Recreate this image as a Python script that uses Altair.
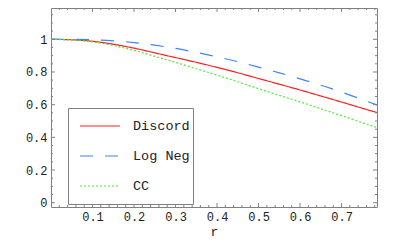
import altair as alt
import pandas as pd

# ---- data ----
r_vals = [0, 0.05, 0.1, 0.15, 0.2, 0.25, 0.3, 0.35, 0.4, 0.45, 0.5, 0.55, 0.6, 0.65, 0.7, 0.75, 0.7854]
discord = [1.000, 0.997, 0.988, 0.970, 0.946, 0.917, 0.888, 0.859, 0.828, 0.795, 0.760, 0.725, 0.690, 0.653, 0.616, 0.578, 0.552]
logneg = [1.000, 0.9995, 0.997, 0.991, 0.980, 0.964, 0.944, 0.920, 0.893, 0.863, 0.830, 0.795, 0.758, 0.719, 0.677, 0.631, 0.598]
cc = [1.000, 0.996, 0.984, 0.962, 0.932, 0.896, 0.859, 0.820, 0.781, 0.740, 0.698, 0.657, 0.617, 0.575, 0.533, 0.490, 0.460]
series_names = ["Discord", "Log Neg", "CC"]

x_labels = [0.1, 0.2, 0.3, 0.4, 0.5, 0.6, 0.7]
y_labels = [0, 0.2, 0.4, 0.6, 0.8, 1]
x_minor = [round(0.02 * i, 2) for i in range(1, 40) if i % 5 != 0]
y_minor = [round(0.05 * i, 2) for i in range(1, 24) if i % 4 != 0]
y_major = [0, 0.2, 0.4, 0.6, 0.8, 1.0]

rows = []
for name, vals in zip(series_names, [discord, logneg, cc]):
    for r, v in zip(r_vals, vals):
        rows.append({"r": r, "value": v, "series": name})
df = pd.DataFrame(rows)

W, H = 326, 199
FRAME = "#808080"
FONT = "Liberation Mono"
TXT = "#222222"

x_scale = alt.Scale(domain=[0, 0.7854], nice=False, zero=False)
y_scale = alt.Scale(domain=[-0.0263, 1.1916], nice=False, zero=False)

x_axis = alt.Axis(values=x_labels, format="~g", title="r", tickSize=0, domain=False,
                  grid=False, labelFont=FONT, labelFontSize=12, labelColor=TXT,
                  labelPadding=4, titleFont=FONT, titleFontSize=13, titleFontWeight="normal",
                  titleColor=TXT, titlePadding=3)
y_axis = alt.Axis(values=y_labels, format="~g", title=None, tickSize=0, domain=False,
                  grid=False, labelFont=FONT, labelFontSize=12, labelColor=TXT,
                  labelPadding=4)

lines = alt.Chart(df).mark_line(strokeWidth=1.2, interpolate="natural", clip=True).encode(
    x=alt.X("r:Q", scale=x_scale, axis=x_axis),
    y=alt.Y("value:Q", scale=y_scale, axis=y_axis),
    color=alt.Color("series:N", sort=series_names,
                    scale=alt.Scale(domain=series_names, range=["#ff2020", "#3d85f5", "#4ee83a"]),
                    legend=alt.Legend(title=None, labelExpr="datum.label + '\u00a0\u00a0\u00a0\u00a0'")),
    strokeDash=alt.StrokeDash("series:N", sort=series_names,
                              scale=alt.Scale(domain=series_names, range=[[1, 0], [13, 12], [2, 2]]),
                              legend=alt.Legend(title=None, labelExpr="datum.label + '\u00a0\u00a0\u00a0\u00a0'")),
)

layers = [lines]


def xticks(vals, length, top):
    d = pd.DataFrame({"r": vals})
    if top:
        yy, yy2 = alt.value(0), alt.value(length)
    else:
        yy, yy2 = alt.value(H), alt.value(H - length)
    return alt.Chart(d).mark_rule(color=FRAME, strokeWidth=1).encode(
        x=alt.X("r:Q", scale=x_scale, axis=x_axis), y=yy, y2=yy2)


def yticks(vals, length, right):
    d = pd.DataFrame({"value": vals})
    if right:
        xx, xx2 = alt.value(W), alt.value(W - length)
    else:
        xx, xx2 = alt.value(0), alt.value(length)
    return alt.Chart(d).mark_rule(color=FRAME, strokeWidth=1).encode(
        y=alt.Y("value:Q", scale=y_scale, axis=y_axis), x=xx, x2=xx2)


for top in (False, True):
    layers.append(xticks(x_labels, 4, top))
    layers.append(xticks(x_minor, 2, top))
for right in (False, True):
    layers.append(yticks(y_major, 4, right))
    layers.append(yticks(y_minor, 2, right))

chart = alt.layer(*layers).properties(
    width=W, height=H,
    padding={"left": 43, "top": 0, "right": 15, "bottom": 40},
    autosize=alt.AutoSizeParams(type="none"),
).configure_view(
    stroke=FRAME, strokeWidth=1
).configure_legend(
    orient="none", legendX=17, legendY=100, padding=3,
    strokeColor=FRAME, fillColor="white",
    symbolType="stroke", symbolSize=1600, symbolStrokeWidth=1.2,
    labelFont=FONT, labelFontSize=13.5, labelColor=TXT, labelOffset=12,
    clipHeight=30, rowPadding=0, symbolOffset=8,
)

chart.save("out.html", embed_options={"renderer": "svg", "actions": False})
